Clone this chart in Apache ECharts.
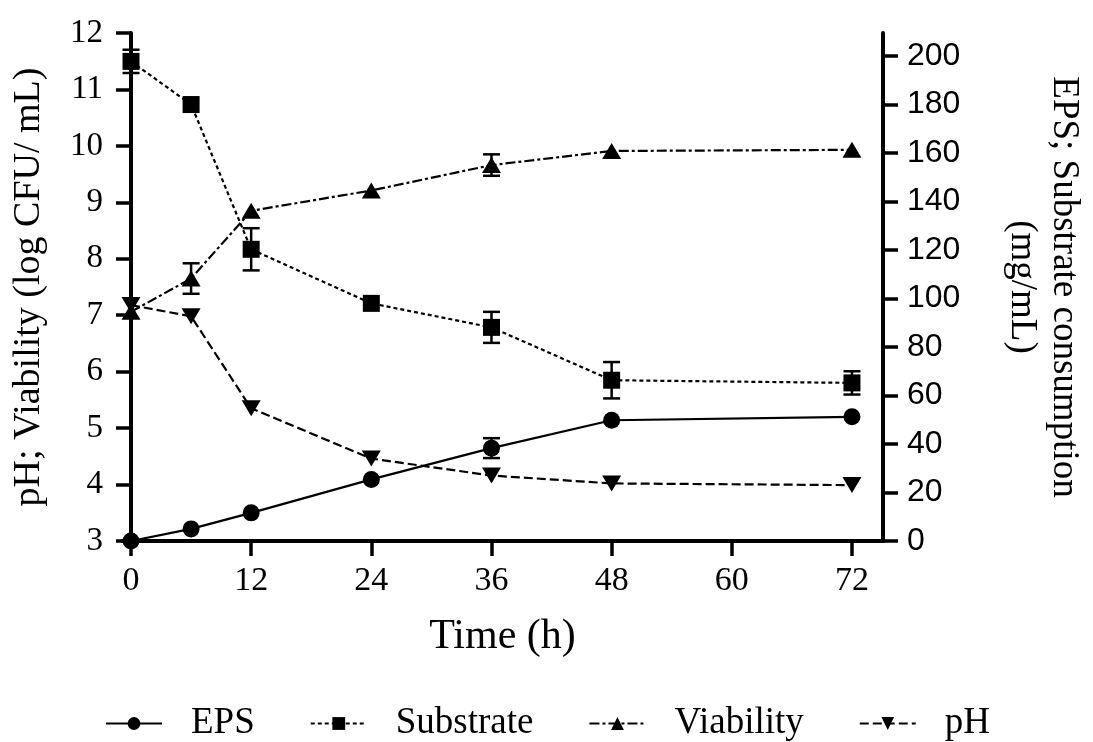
<!DOCTYPE html>
<html>
<head>
<meta charset="utf-8">
<script src="https://cdn.jsdelivr.net/npm/echarts@6/dist/echarts.min.js"></script>
<style>
  html, body { margin: 0; padding: 0; background: #fff; }
  #chart { width: 1093px; height: 742px; }
</style>
</head>
<body>
<div id="chart"></div>
<script>
// Fermentation time points (h)
const timeH = [0, 6, 12, 24, 36, 48, 72];
const xTicks = [0, 12, 24, 36, 48, 60, 72];

// Right axis: EPS and substrate (mg/mL)
const eps = [0, 5.0, 11.6, 25.4, 38.3, 49.8, 51.2];
const epsErr = [0, 0, 0, 0, 4.1, 0, 0];
const substrate = [197.8, 180.0, 120.3, 98.0, 88.1, 66.3, 65.2];
const substrateErr = [4.8, 0, 8.7, 0, 6.4, 7.5, 4.8];
const rightTicks = [0, 20, 40, 60, 80, 100, 120, 140, 160, 180, 200];

// Left axis: viability (log CFU/mL) and pH
const viability = [7.06, 7.65, 8.85, 9.21, 9.66, 9.91, 9.93];
const viabilityErr = [0, 0.27, 0, 0, 0.19, 0, 0];
const ph = [7.18, 6.98, 5.35, 4.46, 4.16, 4.02, 3.99];

const serif = '"Liberation Serif", "Times New Roman", serif';
const sans = '"Liberation Sans", Arial, sans-serif';

const pairs = (ys) => timeH.map((t, i) => [t, ys[i]]);
const errRows = (ys, es) => timeH.map((t, i) => [t, ys[i], es[i]]).filter(r => r[2] > 0);

function errorBar(params, api) {
  const x = api.value(0), y = api.value(1), e = api.value(2);
  const top = api.coord([x, y + e]);
  const bot = api.coord([x, y - e]);
  const half = 8.5;
  const style = { stroke: '#000', lineWidth: 2.5 };
  return {
    type: 'group',
    children: [
      { type: 'line', shape: { x1: top[0], y1: top[1], x2: bot[0], y2: bot[1] }, style },
      { type: 'line', shape: { x1: top[0] - half, y1: top[1], x2: top[0] + half, y2: top[1] }, style },
      { type: 'line', shape: { x1: bot[0] - half, y1: bot[1], x2: bot[0] + half, y2: bot[1] }, style }
    ]
  };
}

function lineSeries(name, data, yIdx, symbol, size, dash, rotate) {
  return {
    name, type: 'line', data: pairs(data), yAxisIndex: yIdx,
    symbol, symbolSize: size, symbolRotate: rotate || 0,
    showSymbol: true, z: 3,
    itemStyle: { color: '#000' },
    lineStyle: { color: '#000', width: 2.2, type: dash },
    emphasis: { disabled: true }
  };
}

function errSeries(data, err, yIdx) {
  return {
    type: 'custom', yAxisIndex: yIdx, z: 2,
    data: errRows(data, err), renderItem: errorBar, silent: true
  };
}

const axisLineStyle = { show: true, lineStyle: { color: '#000', width: 4 } };
const axisTickStyle = { show: true, inside: false, length: 15, lineStyle: { color: '#000', width: 3.5 } };

const chart = echarts.init(document.getElementById('chart'), null, { renderer: 'canvas' });
chart.setOption({
  animation: false,
  backgroundColor: '#fff',
  grid: { left: 122, right: 204, top: 33, bottom: 201, containLabel: false },
  legend: {
    left: 100, top: 700,
    itemWidth: 56, itemHeight: 16, itemGap: 55,
    textStyle: { fontFamily: serif, fontSize: 37, color: '#000', padding: [0, 0, 0, 24] },
    data: ['EPS', 'Substrate', 'Viability', 'pH']
  },
  xAxis: {
    type: 'value', min: -0.9, max: 75.1,
    name: 'Time (h)', nameLocation: 'middle', nameGap: 75,
    nameTextStyle: { fontFamily: serif, fontSize: 42, color: '#000' },
    axisLine: axisLineStyle,
    axisTick: Object.assign({ customValues: xTicks }, axisTickStyle),
    axisLabel: { customValues: xTicks, fontFamily: serif, fontSize: 34, color: '#000', margin: 23 },
    splitLine: { show: false }
  },
  yAxis: [
    {
      type: 'value', position: 'left', min: 3, max: 12, interval: 1,
      name: 'pH; Viability (log CFU/ mL)', nameLocation: 'middle', nameRotate: 90, nameGap: 74,
      nameTextStyle: { fontFamily: serif, fontSize: 38, color: '#000' },
      axisLine: axisLineStyle, axisTick: axisTickStyle,
      axisLabel: { fontFamily: serif, fontSize: 33, color: '#000', margin: 19 },
      splitLine: { show: false }
    },
    {
      type: 'value', position: 'right', min: 0, max: 209.5,
      name: 'EPS; Substrate consumption\n(mg/mL)', nameLocation: 'middle', nameRotate: -90, nameGap: 118,
      nameTextStyle: { fontFamily: serif, fontSize: 37, color: '#000', lineHeight: 42 },
      axisLine: axisLineStyle,
      axisTick: Object.assign({ customValues: rightTicks }, axisTickStyle),
      axisLabel: { customValues: rightTicks, fontFamily: sans, fontSize: 32, color: '#000', margin: 24 },
      splitLine: { show: false }
    }
  ],
  series: [
    errSeries(eps, epsErr, 1),
    errSeries(substrate, substrateErr, 1),
    errSeries(viability, viabilityErr, 0),
    lineSeries('EPS', eps, 1, 'circle', 17, 'solid'),
    lineSeries('Substrate', substrate, 1, 'rect', 17, [4, 3]),
    lineSeries('Viability', viability, 0, 'triangle', [19, 16], [10, 3, 3, 3]),
    lineSeries('pH', ph, 0, 'triangle', [19, 16], [9, 4], 180)
  ]
});
</script>
</body>
</html>
